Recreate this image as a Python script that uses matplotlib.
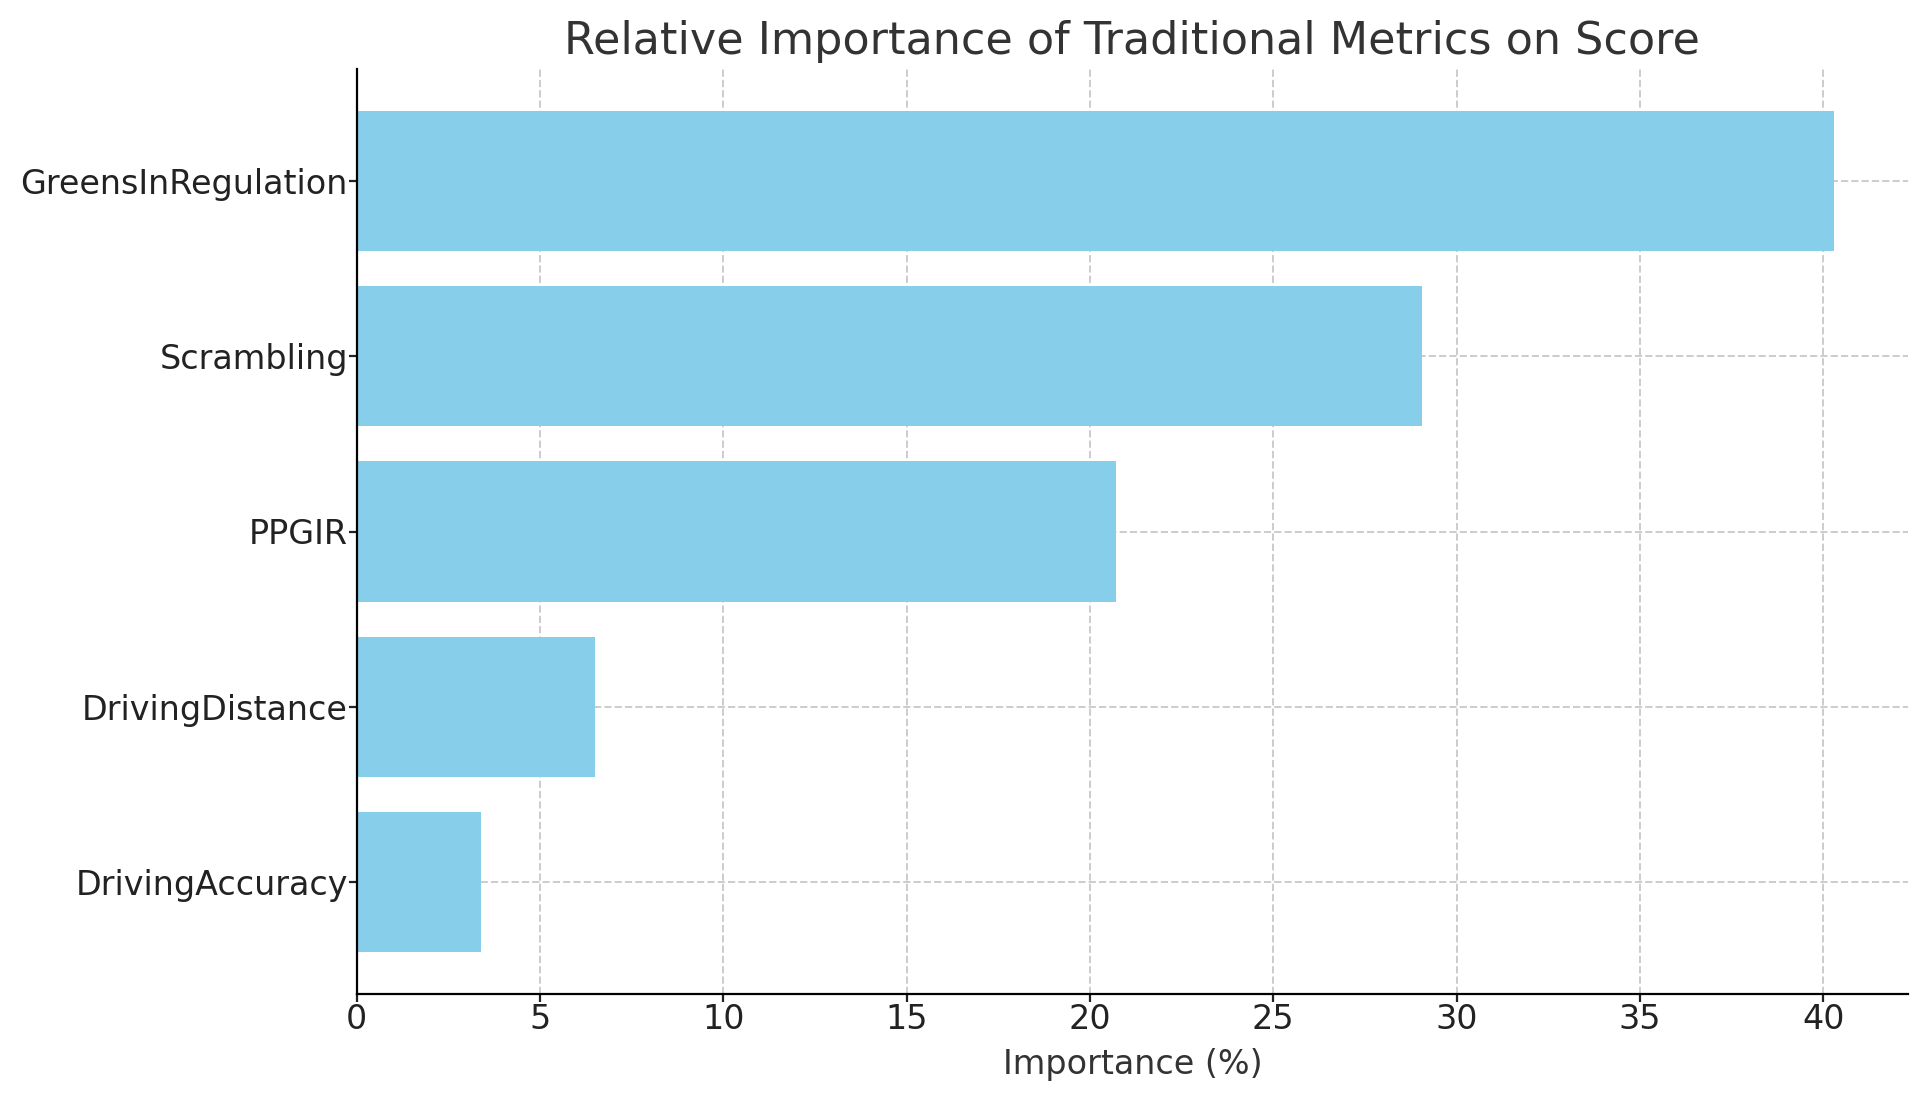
import matplotlib.pyplot as plt

# feature importances (%)
metrics = ['DrivingAccuracy', 'DrivingDistance', 'PPGIR', 'Scrambling', 'GreensInRegulation']
importance = [3.38, 6.50, 20.70, 29.07, 40.30]

plt.rcParams['text.color'] = '#333333'
plt.rcParams['axes.labelcolor'] = '#333333'

fig, ax = plt.subplots(figsize=(1927 / 200, 1101 / 200), dpi=200)
fig.subplots_adjust(left=356.7 / 1927, right=1908 / 1927, top=1 - 69 / 1101, bottom=1 - 994 / 1101)

ax.barh(metrics, importance, color='skyblue', height=0.8, zorder=2)
ax.set_title('Relative Importance of Traditional Metrics on Score', fontsize=16,
             color='#333333', pad=5.3)
ax.set_xlabel('Importance (%)', fontsize=12, labelpad=4.3)
ax.tick_params(labelsize=12, colors='#222222', length=2.9, pad=0.3)
ax.grid(True, linestyle='--', color='#cccccc', linewidth=0.7, zorder=0)
ax.spines['top'].set_visible(False)
ax.spines['right'].set_visible(False)
ax.set_axisbelow(True)

fig.savefig('out.png', dpi=200)
